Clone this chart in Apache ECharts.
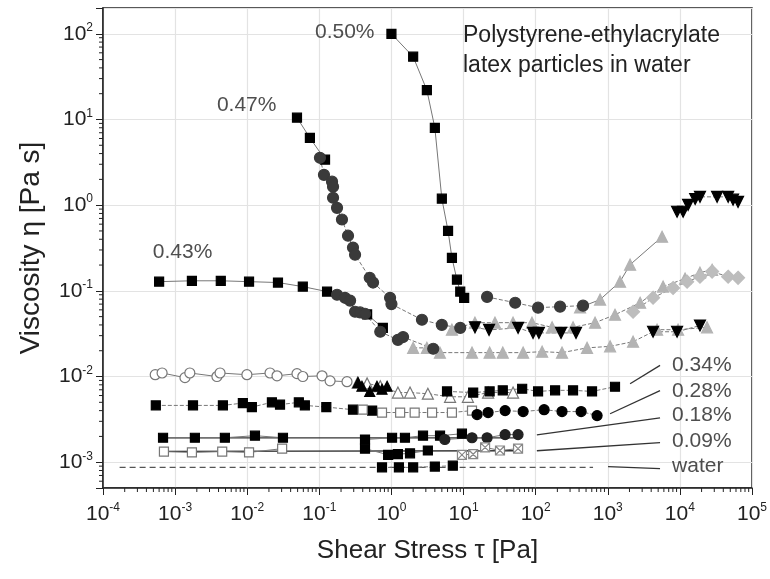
<!DOCTYPE html>
<html>
<head>
<meta charset="utf-8">
<title>Viscosity vs shear stress</title>
<script src="https://cdn.jsdelivr.net/npm/echarts@6/dist/echarts.min.js"></script>
</head>
<body style="margin:0">
<div id="main" style="width:770px;height:579px"></div>
<script>
// values: [shear stress Pa, viscosity Pa s]
var p50Squares = [[1.0,100],[2.0,54],[3.1,22],[4.0,8.0],[5.0,1.19],[6.1,0.50],[6.9,0.243],[8.1,0.135],[9.0,0.098],[10.2,0.083]];
var p50Circles = [[21.2,0.085],[52,0.0726],[108,0.0636],[218,0.0654],[454,0.0672]];
var p50Triangles = [[413,0.064],[782,0.079],[1480,0.128],[2040,0.202],[5660,0.428]];

var p47Squares = [[0.049,10.5],[0.074,6.1],[0.12,3.4]];
var p47Circles = [[0.102,3.57],[0.116,2.26],[0.15,1.88],[0.155,1.64],[0.155,1.22],[0.176,0.93],[0.206,0.68],[0.25,0.44],[0.293,0.32],[0.313,0.264],[0.50,0.142],[0.556,0.125],[0.957,0.083],[1.0,0.070],[2.65,0.046],[5.0,0.040],[9.0,0.037]];
var p47InvTri = [[14.4,0.0375],[22.6,0.035],[57,0.037],[92,0.0323],[111,0.0323],[225,0.0323],[363,0.0323]];
var p47Triangles = [[6.9,0.0352],[14.4,0.0425],[27.3,0.0425],[48.6,0.0425],[89,0.0425],[169,0.0375],[330,0.0375],[667,0.0425],[1260,0.0526],[2810,0.0726],[5850,0.112],[11800,0.139],[19000,0.163],[28000,0.176]];
var highInvTri = [[9150,0.838],[11100,0.838],[13000,1.01],[16300,1.18],[19000,1.25],[32800,1.25],[46700,1.25],[54700,1.16],[64100,1.09]];
var grayDiamonds = [[2245,0.057],[4250,0.083],[8050,0.108],[12600,0.128],[19000,0.146],[28000,0.168],[46700,0.146],[64100,0.142]];

var p43Squares = [[6.0e-4,0.128],[1.71e-3,0.131],[4.3e-3,0.131],[0.0106,0.128],[0.0267,0.125],[0.059,0.112],[0.128,0.098],[0.46,0.053],[0.76,0.037]];
var p43Circles = [[0.176,0.090],[0.227,0.083],[0.267,0.077],[0.313,0.057],[0.367,0.056],[0.43,0.054],[0.70,0.0333],[1.23,0.0268],[1.45,0.0289],[3.8,0.0211]];
var p43Triangles = [[2.0,0.0216],[3.1,0.0216],[4.7,0.019],[13.1,0.019],[23,0.019],[35,0.019],[67,0.019],[123,0.0195],[232,0.019],[516,0.0216],[1077,0.0225],[2245,0.0255],[4830,0.0352],[9450,0.0352],[23800,0.0375]];
var lowInvTri = [[4250,0.0333],[9150,0.0333],[19000,0.0394]];

var p34OpenCircles = [[5.3e-4,0.0105],[6.6e-4,0.0110],[1.37e-3,0.0097],[1.6e-3,0.0110],[3.8e-3,0.0100],[4.2e-3,0.0110],[9.9e-3,0.0105],[0.0207,0.0110],[0.0259,0.0102],[0.049,0.0108],[0.059,0.0100],[0.109,0.0102],[0.141,0.0089],[0.242,0.0087]];
var p34Triangles = [[0.344,0.0085],[0.39,0.0077],[0.50,0.0067],[0.63,0.0077],[0.74,0.0071],[0.87,0.0077]];
var p34OpenTriangles = [[0.34,0.0085],[0.46,0.0083],[0.70,0.0077],[1.23,0.0065],[1.81,0.0065],[3.2,0.0063],[6.5,0.0058],[11.5,0.0058],[21.9,0.0065],[48.6,0.0065]];
var p34Squares = [[5.9,0.0067],[13.6,0.0065],[23,0.0067],[35,0.0069],[65,0.0072],[108,0.0067],[186,0.0069],[330,0.0069],[605,0.0067],[1260,0.0076]];

var p28Squares = [[5.4e-4,0.0046],[1.77e-3,0.0046],[4.6e-3,0.0046],[8.7e-3,0.0049],[0.0116,0.0044],[0.022,0.0050],[0.0285,0.0047],[0.052,0.0050],[0.063,0.0046],[0.125,0.0044],[0.293,0.0041],[0.54,0.0040]];
var p28OpenSquares = [[0.40,0.0041],[0.74,0.0038],[1.32,0.0038],[2.1,0.0038],[3.66,0.0038],[6.9,0.0038],[13.1,0.0040]];
var p28Circles = [[15.4,0.0036],[21.9,0.0038],[37.7,0.0040],[67,0.0039],[131,0.0041],[232,0.0039],[427,0.0039],[711,0.0035]];

var p18Squares = [[6.8e-4,0.00193],[1.88e-3,0.00193],[4.9e-3,0.00193],[0.0128,0.00204],[0.0313,0.00193]];
var p18Fit = [[6.8e-4,0.00192],[57,0.00192]];
var p18HighSquares = [[0.43,0.00184],[1.02,0.00193],[1.54,0.00193],[2.74,0.00204],[4.72,0.00204],[9.5,0.00215]];
var p18Circles = [[5.5,0.00184],[13.1,0.00193],[21.2,0.00193],[37.7,0.0021],[57,0.0021]];

var p09OpenSquares = [[7e-4,0.00133],[1.71e-3,0.0013],[4.5e-3,0.00133],[0.0106,0.0013],[0.0305,0.00144]];
var p09Fit = [[6.2e-4,0.00134],[57,0.00136]];
var p09HighSquares = [[0.43,0.00144],[0.90,0.00122],[1.23,0.00124],[1.81,0.00127],[3.2,0.00137]];
var p09Crossed = [[9.5,0.00122],[13.6,0.00124],[19.9,0.00149],[32,0.00137],[57,0.00144]];

var waterSquares = [[0.74,8.7e-4],[1.27,8.7e-4],[2.0,8.7e-4],[4.0,8.9e-4],[7.1,9.1e-4]];
var waterLine = [[1.7e-4,8.7e-4],[625,8.7e-4]];

var leaderLines = [
    [[2040,0.00824],[5310,0.0135]],
    [[1077,0.00368],[5310,0.00683]],
    [[104,0.00209],[5310,0.0033]],
    [[104,0.00136],[5310,0.00169]],
    [[1010,8.9e-4],[5310,8.4e-4]]
];
var noteTexts = ['0.50%','0.47%','0.43%','0.34%','0.28%','0.18%','0.09%','water'];
var minorSteps = [2,3,4,5,6,7,8,9];

var X0 = 1e-4, X1 = 1e5, Y0 = 5e-4, Y1 = 200;
var FONT = 'Liberation Sans, Arial, sans-serif';
var INK = '#222';

var chart = echarts.init(document.getElementById('main'));

function marks(data, symbol, size, fill, stroke, lineType, rotate) {
    return {
        type: 'line', data: data, symbol: symbol, symbolSize: size, symbolRotate: rotate || 0,
        itemStyle: { color: fill, borderColor: stroke, borderWidth: 1.2 },
        lineStyle: { color: '#777', width: 1, type: lineType || 'solid' },
        z: 3
    };
}
function plainLine(data, color, width, type) {
    return { type: 'line', data: data, symbol: 'none', lineStyle: { color: color, width: width, type: type }, z: 2 };
}
function minorValues(lo, hi) {
    var out = [];
    for (var e = Math.floor(Math.log10(lo)); e <= Math.ceil(Math.log10(hi)); e++) {
        minorSteps.forEach(function (m) {
            var v = m * Math.pow(10, e);
            if (v > lo * 1.0001 && v < hi * 0.9999) out.push(v);
        });
    }
    return out;
}
function powLabel(v) {
    var l = Math.log10(v), e = Math.round(l);
    if (Math.abs(l - e) > 1e-6) return '';
    return '{b|10}{e|' + e + '}';
}
var tickRich = {
    b: { fontSize: 21, fontFamily: FONT, color: INK, lineHeight: 24 },
    e: { fontSize: 12, fontFamily: FONT, color: INK, verticalAlign: 'top', lineHeight: 14 }
};

var crossSquare = 'path://M0,0H10V10H0Z M0,0L10,10 M10,0L0,10';

var series = [
    plainLine(waterLine, '#555', 1.3, [6, 4]),
    plainLine(p18Fit, '#333', 1.3, 'solid'),
    plainLine(p09Fit, '#333', 1.3, 'solid'),
    marks(p50Triangles, 'triangle', 11, '#b3b3b3', '#b3b3b3', 'solid'),
    marks(p47Triangles, 'triangle', 11, '#b3b3b3', '#b3b3b3', 'dashed'),
    marks(p43Triangles, 'triangle', 11, '#b3b3b3', '#b3b3b3', 'dashed'),
    marks(grayDiamonds, 'diamond', 13, '#bdbdbd', '#bdbdbd', 'dashed'),
    marks(p50Squares, 'rect', 9, '#000', '#000', 'solid'),
    marks(p50Circles, 'circle', 11, '#3a3a3a', '#3a3a3a', 'dashed'),
    marks(p47Squares, 'rect', 9, '#000', '#000', 'solid'),
    marks(p47Circles, 'circle', 11, '#3a3a3a', '#3a3a3a', 'dashed'),
    marks(p47InvTri, 'triangle', 11, '#000', '#000', 'dashed', 180),
    marks(highInvTri, 'triangle', 11, '#000', '#000', 'dashed', 180),
    marks(lowInvTri, 'triangle', 11, '#000', '#000', 'dashed', 180),
    marks(p43Squares, 'rect', 9, '#000', '#000', 'solid'),
    marks(p43Circles, 'circle', 11, '#3a3a3a', '#3a3a3a', 'dashed'),
    marks(p34OpenCircles, 'circle', 10, '#fff', '#777', 'solid'),
    marks(p34OpenTriangles, 'triangle', 11, '#fff', '#777', 'dashed'),
    marks(p34Triangles, 'triangle', 10, '#000', '#000', 'dashed'),
    marks(p34Squares, 'rect', 9, '#000', '#000', 'dashed'),
    marks(p28Squares, 'rect', 9, '#000', '#000', 'dashed'),
    marks(p28OpenSquares, 'rect', 9, '#fff', '#777', 'dashed'),
    marks(p28Circles, 'circle', 10, '#000', '#000', 'dashed'),
    marks(p18Squares, 'rect', 9, '#000', '#000', 'solid'),
    marks(p18HighSquares, 'rect', 9, '#000', '#000', 'solid'),
    marks(p18Circles, 'circle', 10, '#222', '#222', 'solid'),
    marks(p09OpenSquares, 'rect', 9, '#fff', '#777', 'solid'),
    marks(p09HighSquares, 'rect', 9, '#000', '#000', 'solid'),
    marks(p09Crossed, crossSquare, 9, '#fff', '#888', 'solid'),
    marks(waterSquares, 'rect', 9, '#000', '#000', 'dashed')
];
leaderLines.forEach(function (seg) { series.push(plainLine(seg, '#333', 1.3, 'solid')); });

// label anchors (left edge / middle of each text)
var noteAnchors = [[0.087,105],[3.8e-3,14.8],[4.9e-4,0.286],[7800,0.0137],[7800,0.0068],[7800,0.00349],[7800,0.00178],[7800,8.9e-4]];
series.push({
    type: 'scatter', symbolSize: 0, silent: true, z: 5,
    data: noteTexts.map(function (t, i) { return { name: t, value: noteAnchors[i] }; }),
    label: { show: true, position: 'right', distance: 0, formatter: '{b}', fontFamily: FONT, fontSize: 21, color: INK }
});

// log-spaced minor ticks
series.push({
    type: 'custom', silent: true, z: 1,
    data: minorValues(X0, X1).map(function (v) { return [v, Y0]; }),
    renderItem: function (params, api) {
        var p = api.coord([api.value(0), api.value(1)]);
        return { type: 'line', shape: { x1: p[0], y1: p[1], x2: p[0], y2: p[1] + 4 }, style: { stroke: INK, lineWidth: 1 } };
    }
});
series.push({
    type: 'custom', silent: true, z: 1,
    data: minorValues(Y0, Y1).map(function (v) { return [X0, v]; }),
    renderItem: function (params, api) {
        var p = api.coord([api.value(0), api.value(1)]);
        return { type: 'line', shape: { x1: p[0] - 4, y1: p[1], x2: p[0], y2: p[1] }, style: { stroke: INK, lineWidth: 1 } };
    }
});

var option = {
    animation: false,
    grid: { left: 103, right: 17, top: 8, bottom: 91, show: true, borderColor: INK, borderWidth: 1.5 },
    xAxis: {
        type: 'log', min: X0, max: X1, logBase: 10,
        name: 'Shear Stress \u03c4 [Pa]', nameLocation: 'middle', nameGap: 50,
        nameTextStyle: { fontFamily: FONT, fontSize: 26, color: INK },
        axisLine: { lineStyle: { color: INK, width: 1.5 } },
        axisTick: { length: 7, lineStyle: { color: INK } },
        axisLabel: { formatter: powLabel, rich: tickRich, margin: 14 },
        splitLine: { show: true, lineStyle: { color: '#e3e3e3', width: 1.2 } }
    },
    yAxis: {
        type: 'log', min: Y0, max: Y1, logBase: 10,
        name: 'Viscosity \u03b7 [Pa s]', nameLocation: 'middle', nameGap: 58,
        nameTextStyle: { fontFamily: FONT, fontSize: 28, color: INK },
        axisLine: { lineStyle: { color: INK, width: 1.5 } },
        axisTick: { length: 7, lineStyle: { color: INK } },
        axisLabel: { formatter: powLabel, rich: tickRich, margin: 10 },
        splitLine: { show: true, lineStyle: { color: '#e3e3e3', width: 1.2 } }
    },
    graphic: [{
        type: 'text', left: 463, top: 21, z: 10,
        style: { text: 'Polystyrene-ethylacrylate\nlatex particles in water', font: '23px ' + FONT, lineHeight: 30, fill: INK }
    }],
    series: series
};

chart.setOption(option);
window.onresize = function () { chart.resize(); };
</script>
</body>
</html>
